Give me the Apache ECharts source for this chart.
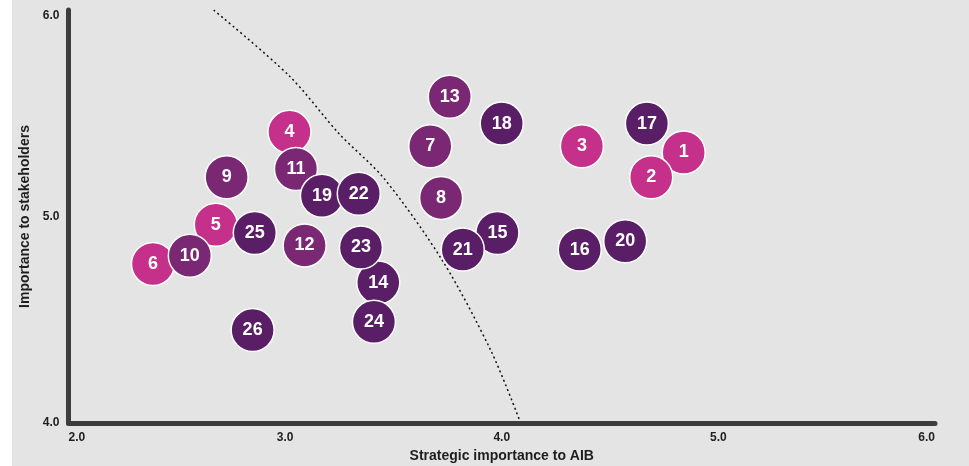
<!DOCTYPE html>
<html>
<head>
<meta charset="utf-8">
<script src="https://cdn.jsdelivr.net/npm/echarts@6/dist/echarts.min.js"></script>
<style>
  html, body { margin: 0; padding: 0; background: #ffffff; }
  #chart { width: 969px; height: 466px; }
</style>
</head>
<body>
<div id="chart"></div>
<script>
// issue number, strategic importance (x), importance to stakeholders (y), group
const issueIds = [1, 2, 3, 4, 5, 6, 7, 8, 9, 10, 11, 12, 13, 14, 15, 16, 17, 18, 19, 20, 21, 22, 23, 24, 25, 26];
const strategicX = [4.84, 4.69, 4.37, 3.02, 2.68, 2.39, 3.67, 3.72, 2.73, 2.56, 3.05, 3.09, 3.76, 3.43, 3.98, 4.36, 4.67, 4.00, 3.17, 4.57, 3.82, 3.34, 3.35, 3.41, 2.86, 2.85];
const stakeholderY = [5.31, 5.19, 5.34, 5.41, 4.96, 4.77, 5.34, 5.09, 5.19, 4.81, 5.23, 4.86, 5.58, 4.68, 4.92, 4.84, 5.45, 5.45, 5.10, 4.88, 4.84, 5.11, 4.85, 4.49, 4.92, 4.45];
const groups = ['pink', 'pink', 'pink', 'pink', 'pink', 'pink', 'mid', 'mid', 'mid', 'mid', 'mid', 'mid', 'mid',
  'dark', 'dark', 'dark', 'dark', 'dark', 'dark', 'dark', 'dark', 'dark', 'dark', 'dark', 'dark', 'dark'];

// dotted threshold curve
const curveX = [2.67, 3.02, 3.25, 3.46, 3.73, 3.95, 4.08];
const curveY = [6.00, 5.68, 5.40, 5.18, 4.78, 4.35, 4.02];

const xTicks = [2, 3, 4, 5, 6];
const yTicks = [4, 5, 6];

const groupColors = { pink: '#c4308a', mid: '#7a2874', dark: '#5a1e66' };

const chart = echarts.init(document.getElementById('chart'));

const bubbleData = issueIds.map((id, i) => ({
  value: [strategicX[i], stakeholderY[i], id],
  itemStyle: { color: groupColors[groups[i]] }
}));

const font = 'Liberation Sans, Arial, sans-serif';

chart.setOption({
  animation: false,
  backgroundColor: '#ffffff',
  graphic: [{
    type: 'rect',
    z: -10,
    shape: { x: 12, y: 0, width: 957, height: 466 },
    style: { fill: '#e4e4e4' }
  }],
  grid: { left: 68.5, right: 34, top: 10, bottom: 43, outerBoundsMode: 'none', containLabel: false },
  xAxis: {
    type: 'value',
    min: 2, max: 6, interval: 1,
    name: 'Strategic importance to AIB',
    nameLocation: 'middle',
    nameGap: 24,
    nameTextStyle: { fontFamily: font, fontWeight: 'bold', fontSize: 14, color: '#1e1e1e' },
    axisLine: { show: true, lineStyle: { color: '#3d3d3d', width: 5 } },
    axisTick: { show: false },
    splitLine: { show: false },
    axisLabel: {
      fontFamily: font, fontWeight: 'bold', fontSize: 12, color: '#1e1e1e', margin: 9,
      alignMinLabel: 'left', alignMaxLabel: 'right',
      formatter: v => xTicks.includes(v) ? v.toFixed(1) : ''
    }
  },
  yAxis: {
    type: 'value',
    min: 4, max: 6, interval: 1,
    name: 'Importance to stakeholders',
    nameLocation: 'middle',
    nameGap: 30,
    nameTextStyle: { fontFamily: font, fontWeight: 'bold', fontSize: 14, color: '#1e1e1e' },
    axisLine: { show: true, lineStyle: { color: '#3d3d3d', width: 5 } },
    axisTick: { show: false },
    splitLine: { show: false },
    axisLabel: {
      fontFamily: font, fontWeight: 'bold', fontSize: 12, color: '#1e1e1e', margin: 9,
      verticalAlignMaxLabel: 'top',
      formatter: v => yTicks.includes(v) ? v.toFixed(1) : ''
    }
  },
  series: [
    {
      type: 'line',
      data: curveX.map((x, i) => [x, curveY[i]]),
      smooth: 0.3,
      symbol: 'none',
      lineStyle: { color: '#111111', width: 1.5, type: [2, 3] },
      z: 1
    },
    {
      type: 'scatter',
      data: bubbleData,
      symbolSize: 43,
      itemStyle: { borderColor: '#ffffff', borderWidth: 1.5, opacity: 1 },
      label: {
        show: true,
        position: 'inside',
        formatter: p => p.value[2],
        fontFamily: font,
        fontWeight: 'bold',
        fontSize: 18,
        color: '#ffffff'
      },
      z: 2
    }
  ]
});
</script>
</body>
</html>
